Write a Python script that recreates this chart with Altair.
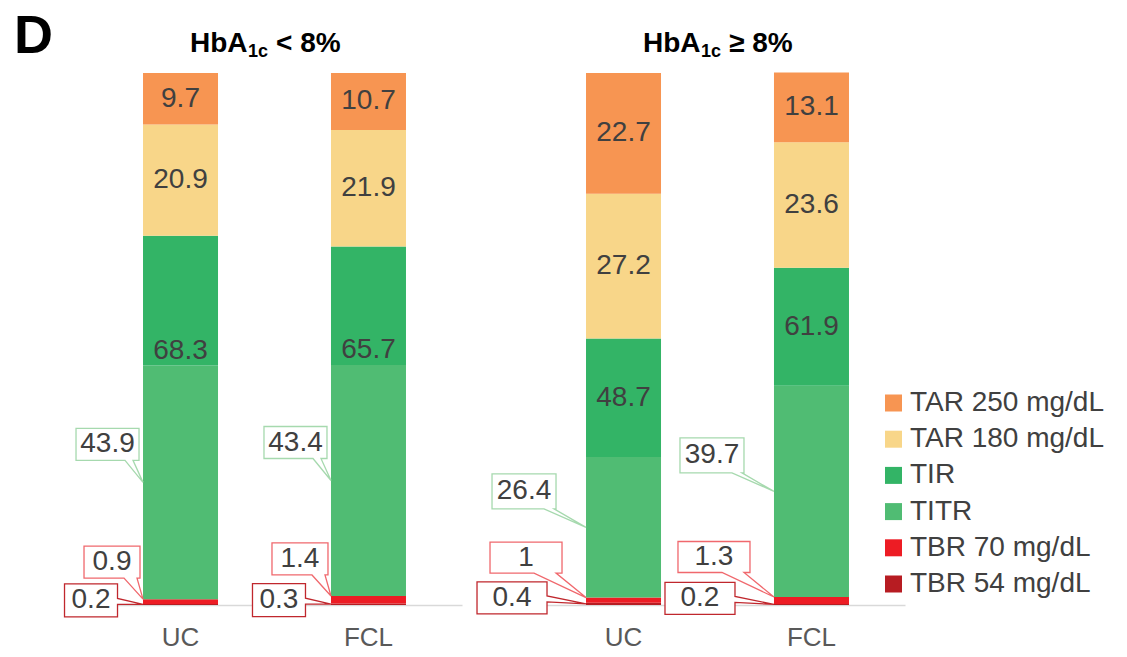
import altair as alt
import pandas as pd

# ---------------- data ----------------
groups = ["HbA1c < 8%", "HbA1c < 8%", "HbA1c ≥ 8%", "HbA1c ≥ 8%"]
arms = ["UC", "FCL", "UC", "FCL"]
arm_order = ["UC", "FCL"]
tar250 = [9.7, 10.7, 22.7, 13.1]
tar180 = [20.9, 21.9, 27.2, 23.6]
tir = [68.3, 65.7, 48.7, 61.9]
titr = [43.9, 43.4, 26.4, 39.7]
tbr70 = [0.9, 1.4, 1.0, 1.3]
tbr54 = [0.2, 0.3, 0.4, 0.2]

series_names = ["TAR 250 mg/dL", "TAR 180 mg/dL", "TIR", "TITR", "TBR 70 mg/dL", "TBR 54 mg/dL"]

# ---------------- styles ----------------
series_colors = ["#F79552", "#F8D689", "#33B466", "#50BC73", "#ED1C24", "#B71C22"]
TXT = "#404040"
FONT = "Liberation Sans"
BAR_HALF = 37.5

callout_cfg = {
    "HbA1c < 8%": {
        "TITR": dict(cx=-35.5, cy=-38, w=63, h=32, side="bottom", b=(-14, -6), color="#A6D9AE"),
        "TBR70": dict(cx=-31, cy=-37, w=56, h=32, side="bottom", b=(-16, -3), color="#F0686D"),
        "TBR54": dict(cx=-52, cy=-4, w=53, h=33, side="right", b=(-2, 4), color="#C0272D"),
    },
    "HbA1c ≥ 8%": {
        "TITR": dict(cx=-62, cy=-36, w=64, h=35, side="bottom", b=(-12, -2), color="#A6D9AE"),
        "TBR70": dict(cx=-60, cy=-40, w=72, h=31, side="bottom", b=(-28, -6), color="#F0686D"),
        "TBR54": dict(cx=-74, cy=-6, w=70, h=32, side="right", b=(-2, 4), color="#C0272D"),
    },
}
panel_cfg = {
    "HbA1c < 8%": dict(title_x=103, sign="< 8%", tir_mode="above_titr", letter=True),
    "HbA1c ≥ 8%": dict(title_x=113, sign="≥ 8%", tir_mode="center", letter=False),
}


def fmt(v):
    return f"{v:g}"


# ---------------- tables ----------------
seg_rows, lab_rows, call_rows = [], [], []
for i in range(len(groups)):
    parts = [("TBR 54 mg/dL", tbr54[i]), ("TBR 70 mg/dL", tbr70[i]), ("TITR", titr[i]),
             ("TIR", tir[i] - titr[i]), ("TAR 180 mg/dL", tar180[i]), ("TAR 250 mg/dL", tar250[i])]
    base = 0.0
    pos = {}
    for name, v in parts:
        seg_rows.append(dict(group=groups[i], arm=arms[i], series=name, y0=base, y1=base + v))
        pos[name] = (base, base + v)
        base += v
    for name, val in [("TAR 250 mg/dL", tar250[i]), ("TAR 180 mg/dL", tar180[i])]:
        lab_rows.append(dict(group=groups[i], arm=arms[i], kind="mid",
                             y=(pos[name][0] + pos[name][1]) / 2, text=fmt(val)))
    lab_rows.append(dict(group=groups[i], arm=arms[i], kind="center",
                         y=(pos["TIR"][0] + pos["TIR"][1]) / 2, text=fmt(tir[i])))
    lab_rows.append(dict(group=groups[i], arm=arms[i], kind="above_titr",
                         y=pos["TITR"][1], text=fmt(tir[i])))
    call_rows.append(dict(group=groups[i], arm=arms[i], kind="TITR",
                          y=(pos["TITR"][0] + pos["TITR"][1]) / 2, text=fmt(titr[i])))
    call_rows.append(dict(group=groups[i], arm=arms[i], kind="TBR70",
                          y=pos["TBR 70 mg/dL"][1], text=fmt(tbr70[i])))
    call_rows.append(dict(group=groups[i], arm=arms[i], kind="TBR54",
                          y=pos["TBR 54 mg/dL"][1] / 2, text=fmt(tbr54[i])))

seg_df = pd.DataFrame(seg_rows)
lab_df = pd.DataFrame(lab_rows)
call_df = pd.DataFrame(call_rows)

cscale = alt.Scale(domain=series_names, range=series_colors)


def callout_path(c, shift):
    cx, cy, w, h = c["cx"] + shift, c["cy"], c["w"], c["h"]
    L, R, T, B = cx - w / 2, cx + w / 2, cy - h / 2, cy + h / 2
    tx, ty = shift, 0
    b1, b2 = c["b"]
    if c["side"] == "bottom":
        return (f"M{L:.1f},{T:.1f}H{R:.1f}V{B:.1f}H{R + b2:.1f}L{tx:.1f},{ty:.1f}"
                f"L{R + b1:.1f},{B:.1f}H{L:.1f}Z")
    return (f"M{L:.1f},{T:.1f}H{R:.1f}V{cy + b1:.1f}L{tx:.1f},{ty:.1f}"
            f"L{R:.1f},{cy + b2:.1f}V{B:.1f}H{L:.1f}Z")


def make_panel(gname):
    pc = panel_cfg[gname]
    xenc = alt.X("arm:N", sort=arm_order, title=None,
                 scale=alt.Scale(paddingInner=0.601, paddingOuter=0.298),
                 axis=alt.Axis(labelAngle=0, labelFontSize=26, labelColor="#595959",
                               labelFont=FONT, labelPadding=19, ticks=False, tickSize=0,
                               domainColor="#D9D9D9", domainWidth=1.5, grid=False))
    ys = alt.Scale(domain=[0, 100])

    seg = seg_df[seg_df.group == gname]
    bars = alt.Chart(seg).mark_bar().encode(
        x=xenc,
        y=alt.Y("y0:Q", scale=ys, axis=None),
        y2="y1:Q",
        color=alt.Color("series:N", scale=cscale, legend=None),
    )
    layers = [bars]

    lab = lab_df[(lab_df.group == gname) & (lab_df.kind == "mid")]
    layers.append(alt.Chart(lab).mark_text(fontSize=28, color=TXT, baseline="middle").encode(
        x=xenc, y=alt.Y("y:Q", scale=ys, axis=None), text="text:N"))
    tl = lab_df[(lab_df.group == gname) & (lab_df.kind == pc["tir_mode"])]
    layers.append(alt.Chart(tl).mark_text(
        fontSize=28, color=TXT, baseline="middle",
        dy=-15 if pc["tir_mode"] == "above_titr" else 0).encode(
        x=xenc, y=alt.Y("y:Q", scale=ys, axis=None), text="text:N"))

    for kind in ["TITR", "TBR70", "TBR54"]:
        c = callout_cfg[gname][kind]
        cd = call_df[(call_df.group == gname) & (call_df.kind == kind)]
        layers.append(alt.Chart(cd).mark_point(
            shape=callout_path(c, -BAR_HALF), size=4, filled=True, fill="white",
            stroke=c["color"], strokeWidth=1.3, opacity=1).encode(
            x=xenc, y=alt.Y("y:Q", scale=ys, axis=None)))
        layers.append(alt.Chart(cd).mark_text(
            fontSize=28, color=TXT, baseline="middle", align="center",
            dx=c["cx"] - BAR_HALF, dy=c["cy"]).encode(
            x=xenc, y=alt.Y("y:Q", scale=ys, axis=None), text="text:N"))

    tx = pc["title_x"]
    one = pd.DataFrame({"t": [0]})
    layers.append(alt.Chart(one).mark_text(
        text="HbA", fontSize=28, fontWeight="bold", color="black", align="left",
        baseline="alphabetic").encode(x=alt.value(tx), y=alt.value(-21)))
    layers.append(alt.Chart(one).mark_text(
        text="1c", fontSize=18, fontWeight="bold", color="black", align="left",
        baseline="alphabetic").encode(x=alt.value(tx + 58), y=alt.value(-16)))
    layers.append(alt.Chart(one).mark_text(
        text=pc["sign"], fontSize=28, fontWeight="bold", color="black", align="left",
        baseline="alphabetic").encode(x=alt.value(tx + 86), y=alt.value(-21)))
    if pc["letter"]:
        layers.append(alt.Chart(one).mark_text(
            text="D", fontSize=54, fontWeight="bold", color="black", align="left",
            baseline="top").encode(x=alt.value(-73), y=alt.value(-63)))

    return alt.layer(*layers).properties(width=375, height=532)


p1 = make_panel("HbA1c < 8%")
p2 = make_panel("HbA1c ≥ 8%")

leg_df = pd.DataFrame({"item": series_names})
ly = alt.Y("item:N", sort=series_names, axis=None,
           scale=alt.Scale(type="point", range=[330, 511], padding=0))
leg_sq = alt.Chart(leg_df).mark_square(size=289, opacity=1, filled=True).encode(
    x=alt.value(-79.5), y=ly, color=alt.Color("item:N", scale=cscale, legend=None))
leg_tx = alt.Chart(leg_df).mark_text(fontSize=28, color=TXT, align="left", baseline="middle").encode(
    x=alt.value(-63), y=ly, text="item:N")
legend = alt.layer(leg_sq, leg_tx).properties(width=20, height=532)

chart = alt.hconcat(p1, p2, legend, spacing=68, bounds="flush").properties(
    padding={"left": 6, "top": 2, "right": 5, "bottom": 5}
).configure(font=FONT, view=alt.ViewConfig(stroke=None))

chart.save("out.html", embed_options={"renderer": "svg", "actions": False})
